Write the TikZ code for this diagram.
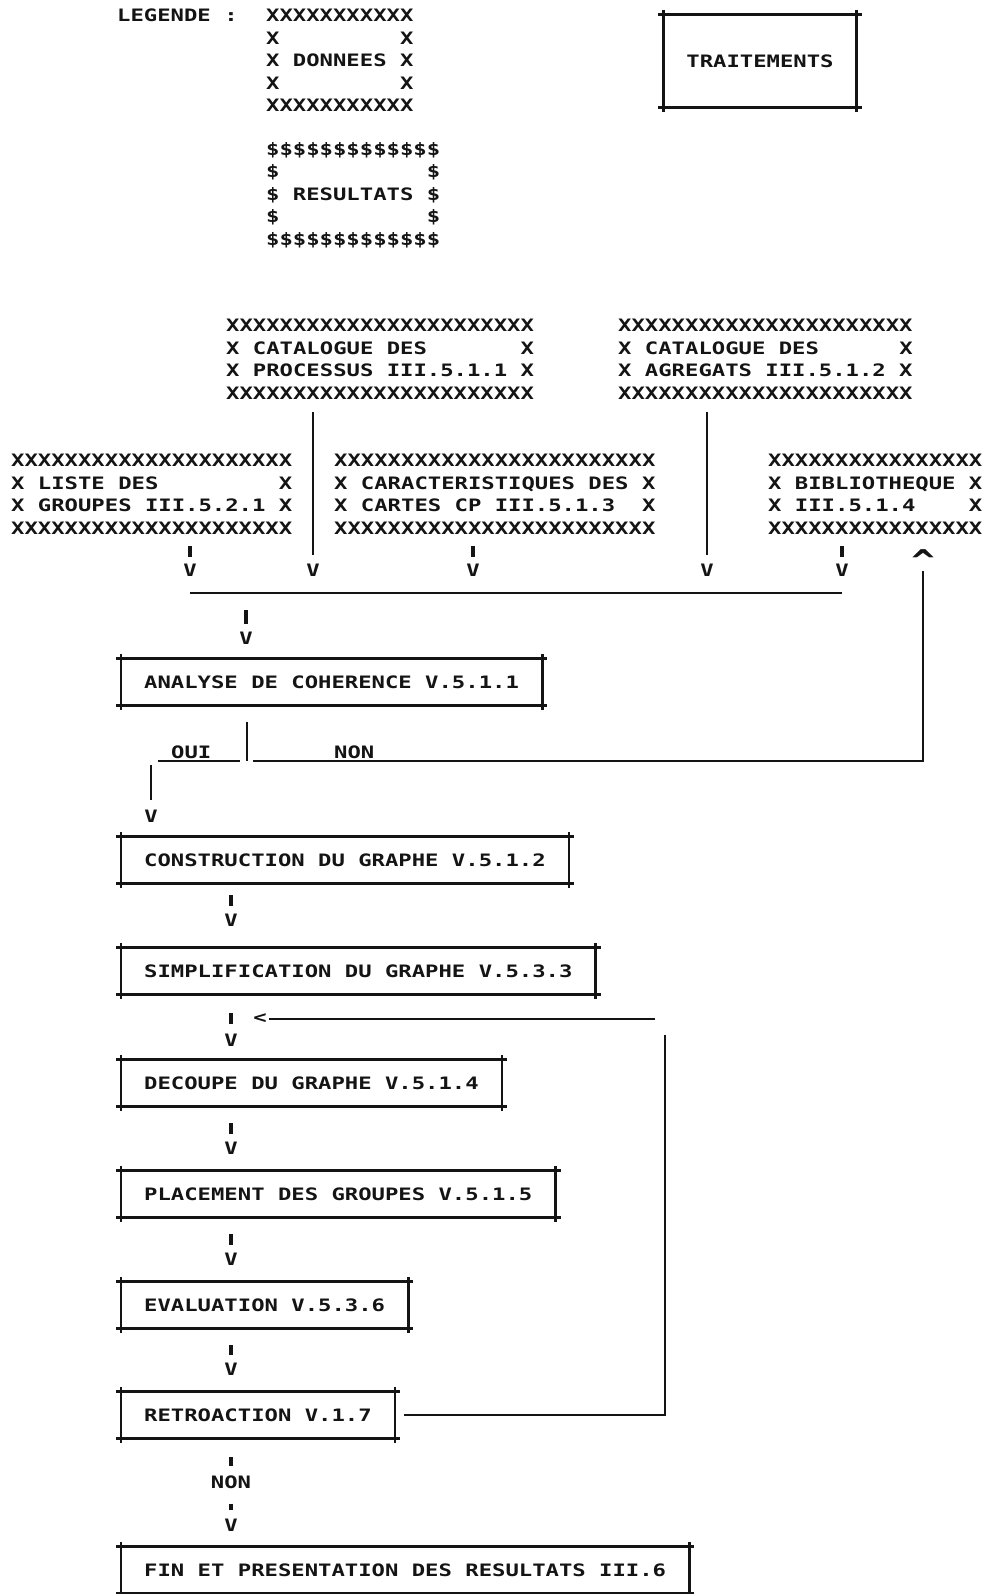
\documentclass[tikz,border=0pt]{standalone}
\usepackage{fontspec}
\usepackage{tikz}
\usetikzlibrary{positioning, calc}
\newfontfamily\dotfont[FakeStretch=1.3]{DejaVu Sans Mono}
\definecolor{encre}{RGB}{20,20,20}
\newcommand{\rangee}[2]{\foreach \k in {1,...,#1}{#2}}
\tikzset{
	typed/.style={font=\dotfont\bfseries\fontsize{17.1}{22.5}\selectfont, text=encre, inner sep=0pt},
	donnee/.style={typed, align=left, anchor=north west},
	traitement/.style={typed, inner xsep=23pt, inner ysep=0pt, minimum height=46pt, anchor=west},
	cadre/.style={draw=encre, line width=2.8pt, shorten <=-5pt, shorten >=-5pt},
	flux/.style={draw=encre, line width=2.8pt},
	tiret/.style={flux, line width=3.2pt, shorten <=17pt, shorten >=8pt}
}

\begin{document}
\begin{tikzpicture}[x=1pt, y=1pt]
	\useasboundingbox (0,0) rectangle (987,-1594);
	% legende
	\node[typed, anchor=west] (leg) at (117,-15) {LEGENDE :};
	\node[donnee] (legdon) at (266,-9) {\rangee{11}{X}\\X\rangee{9}{~}X\\X~DONNEES~X\\X\rangee{9}{~}X\\\rangee{11}{X}};
	\node[donnee] (legres) at (266,-142) {\rangee{13}{\$}\\\$\rangee{11}{~}\$\\\$~RESULTATS~\$\\\$\rangee{11}{~}\$\\\rangee{13}{\$}};
	\node[traitement, anchor=center, minimum height=92pt] (trait) at (760,-61) {TRAITEMENTS};

	% fichiers de donnees
	\node[donnee] (processus) at (226,-319) {\rangee{23}{X}\\X~CATALOGUE~DES\rangee{7}{~}X\\X~PROCESSUS~III.5.1.1~X\\\rangee{23}{X}};
	\node[donnee] (agregats) at (618,-319) {\rangee{22}{X}\\X~CATALOGUE~DES\rangee{6}{~}X\\X~AGREGATS~III.5.1.2~X\\\rangee{22}{X}};
	\node[donnee] (liste) at (11,-454) {\rangee{21}{X}\\X~LISTE~DES\rangee{9}{~}X\\X~GROUPES~III.5.2.1~X\\\rangee{21}{X}};
	\node[donnee] (cartes) at (334,-454) {\rangee{24}{X}\\X~CARACTERISTIQUES~DES~X\\X~CARTES~CP~III.5.1.3~~X\\\rangee{24}{X}};
	\node[donnee] (biblio) at (768,-454) {\rangee{16}{X}\\X~BIBLIOTHEQUE~X\\X~III.5.1.4\rangee{4}{~}X\\\rangee{16}{X}};

	\foreach \nom/\x in {vliste/190, vproc/313, vcartes/473, vagreg/707, vbiblio/842}
		\node[typed] (\nom) at (\x,-570) {V};
	\node[typed, anchor=base, font=\dotfont\bfseries\fontsize{30}{30}\selectfont] (haut) at (923,-571) {\textasciicircum};

	\draw[tiret, shorten <=12pt, shorten >=7pt] (liste.south -| vliste) -- (vliste.north);
	\draw[tiret, shorten <=12pt, shorten >=7pt] (cartes.south -| vcartes) -- (vcartes.north);
	\draw[tiret, shorten <=12pt, shorten >=7pt] (biblio.south -| vbiblio) -- (vbiblio.north);
	\draw[flux, shorten <=13pt, shorten >=9pt] (processus.south -| vproc) -- (vproc.north);
	\draw[flux, shorten <=13pt, shorten >=9pt] (agregats.south -| vagreg) -- (vagreg.north);

	\coordinate (busg) at ([yshift=-23pt]vliste.center);
	\coordinate (busd) at (busg -| vbiblio);
	\draw[flux] (busg) -- (busd);

	% chaine de traitements
	\node[typed] (vana) at (246,-638) {V};
	\draw[tiret] (busg -| vana) -- (vana.north);
	\node[traitement] (analyse) at (121,-682) {ANALYSE DE COHERENCE V.5.1.1};

	\coordinate (branche) at (247,-761);
	\coordinate (ouig) at (158,-761);
	\draw[flux, shorten <=17pt] (analyse.south -| branche) -- (branche);
	\node[typed, anchor=base west] (oui) at (171,-758) {OUI};
	\node[typed, anchor=base west] (non) at (334,-758) {NON};
	\draw[flux] (ouig) -- ([xshift=-7pt]branche);
	\draw[flux] ([xshift=6pt]branche) -| (haut.base);

	\node[typed] (voui) at (151,-816) {V};
	\draw[flux, shorten <=4pt, shorten >=10pt] (ouig -| voui) -- (voui.north);
	\node[traitement] (construction) at (121,-860) {CONSTRUCTION DU GRAPHE V.5.1.2};

	\node[typed] (vsimp) at (231,-920) {V};
	\draw[tiret, shorten <=12pt] (construction.south -| vsimp) -- (vsimp.north);
	\node[traitement] (simplif) at (121,-971) {SIMPLIFICATION DU GRAPHE V.5.3.3};

	\node[typed] (vdecoupe) at (231,-1040) {V};
	\node[typed] (retour) at (260,-1019) {<};
	\draw[tiret, shorten <=19pt, shorten >=10pt] (simplif.south -| vdecoupe) -- (vdecoupe.north);
	\node[traitement] (decoupe) at (121,-1083) {DECOUPE DU GRAPHE V.5.1.4};

	\node[typed] (vplace) at (231,-1148) {V};
	\draw[tiret] (decoupe.south -| vplace) -- (vplace.north);
	\node[traitement] (placement) at (121,-1194) {PLACEMENT DES GROUPES V.5.1.5};

	\node[typed] (veval) at (231,-1259) {V};
	\draw[tiret] (placement.south -| veval) -- (veval.north);
	\node[traitement] (evaluation) at (121,-1305) {EVALUATION V.5.3.6};

	\node[typed] (vretro) at (231,-1369) {V};
	\draw[tiret] (evaluation.south -| vretro) -- (vretro.north);
	\node[traitement] (retroaction) at (121,-1415) {RETROACTION V.1.7};

	\node[typed] (nonfin) at (231,-1482) {NON};
	\draw[tiret, shorten <=19pt, shorten >=9pt] (retroaction.south -| nonfin) -- (nonfin.north);
	\node[typed] (vfin) at (231,-1525) {V};
	\draw[tiret, shorten <=15pt, shorten >=9pt] (nonfin.south) -- (vfin.north);
	\node[traitement] (fin) at (121,-1570) {FIN ET PRESENTATION DES RESULTATS III.6};

	% boucle de retroaction
	\coordinate (boucle) at (665,-1019);
	\draw[flux, shorten <=9pt, shorten >=16pt] (retroaction.east) -| (boucle);
	\draw[flux, shorten <=10pt, shorten >=2pt] (boucle) -- (retour.east);

	\foreach \b in {trait, analyse, construction, simplif, decoupe, placement, evaluation, retroaction, fin}{
		\draw[cadre] (\b.north west) -- (\b.north east);
		\draw[cadre] (\b.south west) -- (\b.south east);
		\draw[cadre] (\b.north west) -- (\b.south west);
		\draw[cadre] (\b.north east) -- (\b.south east);
	}
\end{tikzpicture}
\end{document}
